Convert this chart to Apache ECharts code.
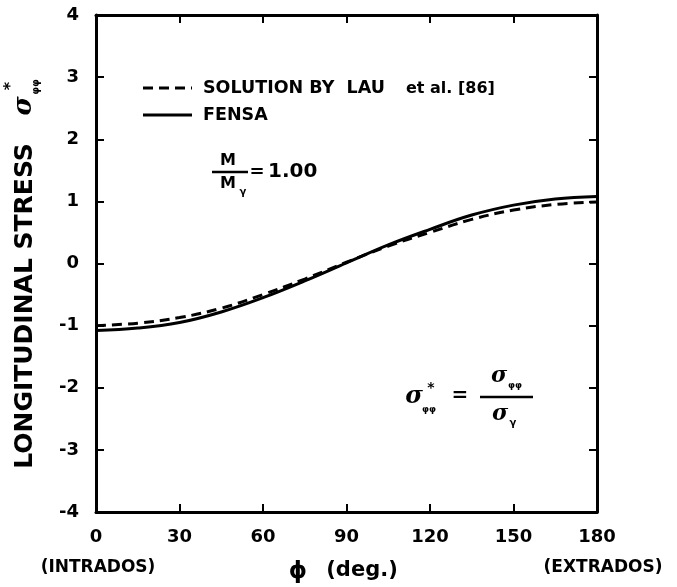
<!DOCTYPE html>
<html>
<head>
<meta charset="utf-8">
<script src="https://cdn.jsdelivr.net/npm/echarts@6/dist/echarts.min.js"></script>
<style>
  html, body { margin: 0; padding: 0; background: #fff; }
  #chart { width: 677px; height: 587px; }
</style>
</head>
<body>
<div id="chart"></div>
<script>
// Angle around the bend (degrees), from intrados (0) to extrados (180)
const phiDeg = [0, 15, 30, 45, 60, 75, 90, 105, 120, 135, 150, 165, 180];
// Normalised longitudinal stress, Lau et al. solution
const lauStress = [-1.00, -0.96, -0.87, -0.72, -0.50, -0.25, 0.02, 0.28, 0.50, 0.71, 0.86, 0.95, 0.99];
// Normalised longitudinal stress, FENSA
const fensaStress = [-1.08, -1.04, -0.95, -0.78, -0.55, -0.28, 0.01, 0.30, 0.55, 0.78, 0.94, 1.04, 1.08];
// Axis ticks
const xTicks = [0, 30, 60, 90, 120, 150, 180];
const yTicks = [-4, -3, -2, -1, 0, 1, 2, 3, 4];

const FONT = '"DejaVu Sans", sans-serif';
const SIG = '"DejaVu Serif", serif';
const INK = '#000';

const chart = echarts.init(document.getElementById('chart'), null, { renderer: 'canvas' });

function pairs(xs, ys) { return xs.map((x, i) => [x, ys[i]]); }

const axisLine = { show: true, onZero: false, lineStyle: { color: INK, width: 3 } };
const axisTick = { show: true, inside: true, length: 8, lineStyle: { color: INK, width: 2 } };

function text(x, y, str, size, opts) {
  opts = opts || {};
  return {
    type: 'text', x: x, y: y, rotation: opts.rotation || 0, silent: true,
    style: {
      text: str,
      font: (opts.style || '') + ' bold ' + size + 'px ' + (opts.family || FONT),
      fill: INK,
      textAlign: opts.align || 'left',
      textVerticalAlign: opts.valign || 'middle'
    }
  };
}
function line(x1, y1, x2, y2, w, dash) {
  return {
    type: 'line', silent: true,
    shape: { x1: x1, y1: y1, x2: x2, y2: y2 },
    style: { stroke: INK, lineWidth: w, lineDash: dash || null }
  };
}

const option = {
  backgroundColor: '#fff',
  animation: false,
  grid: { left: 96, right: 80, top: 15, bottom: 75, containLabel: false },
  xAxis: [
    {
      type: 'value', min: 0, max: 180, interval: 30, position: 'bottom',
      axisLine: axisLine, axisTick: axisTick, splitLine: { show: false },
      axisLabel: {
        margin: 16, color: INK, fontFamily: FONT, fontWeight: 'bold', fontSize: 18,
        customValues: xTicks, formatter: v => String(v)
      }
    },
    {
      type: 'value', min: 0, max: 180, interval: 30, position: 'top',
      axisLine: axisLine, axisTick: axisTick, splitLine: { show: false },
      axisLabel: { show: false }
    }
  ],
  yAxis: [
    {
      type: 'value', min: -4, max: 4, interval: 1, position: 'left',
      axisLine: axisLine, axisTick: axisTick, splitLine: { show: false },
      axisLabel: {
        margin: 17, color: INK, fontFamily: FONT, fontWeight: 'bold', fontSize: 18,
        customValues: yTicks, formatter: v => String(v)
      }
    },
    {
      type: 'value', min: -4, max: 4, interval: 1, position: 'right',
      axisLine: axisLine, axisTick: axisTick, splitLine: { show: false },
      axisLabel: { show: false }
    }
  ],
  series: [
    {
      name: 'SOLUTION BY  LAU et al. [86]', type: 'line', smooth: 0.4, showSymbol: false,
      data: pairs(phiDeg, lauStress),
      lineStyle: { color: INK, width: 3, type: [10, 6] }, z: 3
    },
    {
      name: 'FENSA', type: 'line', smooth: 0.4, showSymbol: false,
      data: pairs(phiDeg, fensaStress),
      lineStyle: { color: INK, width: 3, type: 'solid' }, z: 4
    }
  ],
  graphic: [
    // legend
    line(143, 88, 192, 88, 3, [10, 6]),
    text(203, 88, 'SOLUTION BY  LAU', 17.5),
    text(406, 89, 'et al. [86]', 16),
    line(143, 115, 192, 115, 3),
    text(203, 115, 'FENSA', 17.5),

    // M / M_y = 1.00
    text(228, 161, 'M', 16, { align: 'center' }),
    line(212, 172, 248, 172, 2.5),
    text(228, 184, 'M', 16, { align: 'center' }),
    text(243, 192, 'γ', 10, { align: 'center' }),
    text(257, 172, '=', 18, { align: 'center' }),
    text(268, 172, '1.00', 20),

    // sigma* = sigma_phiphi / sigma_y
    text(414, 397, 'σ', 24, { align: 'center', family: SIG, style: 'italic' }),
    text(431, 388, '*', 14, { align: 'center' }),
    text(429, 410, 'φφ', 9, { align: 'center' }),
    text(460, 396, '=', 20, { align: 'center' }),
    line(480, 397, 533, 397, 2.5),
    text(499, 376, 'σ', 22, { align: 'center', family: SIG, style: 'italic' }),
    text(515, 386, 'φφ', 9, { align: 'center' }),
    text(500, 414, 'σ', 22, { align: 'center', family: SIG, style: 'italic' }),
    text(513, 423, 'γ', 10, { align: 'center' }),

    // x axis captions
    text(98, 568, '(INTRADOS)', 17, { align: 'center' }),
    text(603, 568, '(EXTRADOS)', 17, { align: 'center' }),
    text(298, 572, 'ϕ', 23, { align: 'center' }),
    text(362, 571, '(deg.)', 21, { align: 'center' }),

    // y axis title
    text(25, 306, 'LONGITUDINAL STRESS', 25, { align: 'center', rotation: Math.PI / 2 }),
    text(24, 106, 'σ', 26, { align: 'center', family: SIG, style: 'italic', rotation: Math.PI / 2 }),
    text(11, 86, '*', 16, { align: 'center', rotation: Math.PI / 2 }),
    text(36, 87, 'φφ', 10, { align: 'center', rotation: Math.PI / 2 })
  ]
};

chart.setOption(option);
</script>
</body>
</html>
